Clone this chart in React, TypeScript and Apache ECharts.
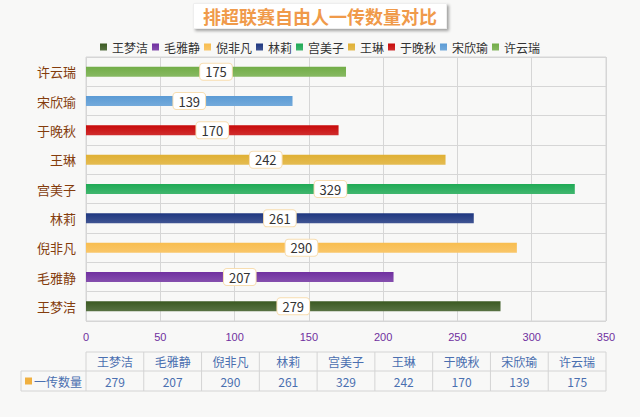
import React, { useEffect, useRef } from "react";
import * as echarts from "echarts";

const categories = ["王梦洁", "毛雅静", "倪非凡", "林莉", "宫美子", "王琳", "于晚秋", "宋欣瑜", "许云瑞"];
const values = [279, 207, 290, 261, 329, 242, 170, 139, 175];
const colors = ["#3b5a22", "#7030a0", "#f8bd4f", "#1f3780", "#1faa55", "#e0b033", "#c80a0a", "#5b9bd5", "#72ad47"];
const xTicks = [0, 50, 100, 150, 200, 250, 300, 350];
const tableRowLabel = "一传数量";
const titleText = "排超联赛自由人一传数量对比";

const FONT = "'Noto Sans CJK SC', 'Microsoft YaHei', sans-serif";

export default function App() {
  const ref = useRef<HTMLDivElement>(null);
  useEffect(() => {
    if (!ref.current) return;
    const chart = echarts.init(ref.current, null, { renderer: "svg" });
    const gridLeft = 86;
    const gridRight = 606;
    const gridTop = 57;
    const gridBottom = 321;
    const colW = (gridRight - gridLeft) / categories.length;
    const tTop = 352;
    const tMid = 371;
    const tBot = 391;
    const tLeft = 21;
    const lineStyle = { stroke: "#d4d4d4", lineWidth: 1 };
    const tableEls: any[] = [];
    tableEls.push({ type: "line", shape: { x1: gridLeft, y1: tTop, x2: gridRight, y2: tTop }, style: lineStyle });
    tableEls.push({ type: "line", shape: { x1: tLeft, y1: tMid, x2: gridRight, y2: tMid }, style: lineStyle });
    tableEls.push({ type: "line", shape: { x1: tLeft, y1: tBot, x2: gridRight, y2: tBot }, style: lineStyle });
    tableEls.push({ type: "line", shape: { x1: tLeft, y1: tMid, x2: tLeft, y2: tBot }, style: lineStyle });
    for (let i = 0; i <= categories.length; i++) {
      const x = gridLeft + i * colW;
      tableEls.push({ type: "line", shape: { x1: x, y1: tTop, x2: x, y2: tBot }, style: lineStyle });
    }
    categories.forEach((c, i) => {
      const cx = gridLeft + (i + 0.5) * colW;
      tableEls.push({
        type: "text",
        x: cx,
        y: (tTop + tMid) / 2,
        style: { text: c, fill: "#4a6fb0", font: `12px ${FONT}`, align: "center", verticalAlign: "middle" },
      });
      tableEls.push({
        type: "text",
        x: cx,
        y: (tMid + tBot) / 2,
        style: { text: String(values[i]), fill: "#4a6fb0", font: `12px ${FONT}`, align: "center", verticalAlign: "middle" },
      });
    });
    tableEls.push({
      type: "rect",
      shape: { x: tLeft + 4, y: (tMid + tBot) / 2 - 3.5, width: 7, height: 7 },
      style: { fill: "#f0b040" },
    });
    tableEls.push({
      type: "text",
      x: tLeft + 13,
      y: (tMid + tBot) / 2,
      style: { text: tableRowLabel, fill: "#4a6fb0", font: `12px ${FONT}`, align: "left", verticalAlign: "middle" },
    });

    const series = categories.map((name, i) => ({
      name,
      type: "bar",
      barWidth: 10,
      barGap: "-100%",
      data: categories.map((_, j) => (j === i ? values[i] : null)),
      itemStyle: {
        color: new echarts.graphic.LinearGradient(0, 0, 0, 1, [
          { offset: 0, color: colors[i] },
          { offset: 1, color: echarts.color.lift(colors[i], 0.15) },
        ]),
      },
      label: {
        show: true,
        position: "inside",
        color: "#333",
        fontSize: 13,
        fontFamily: FONT,
        backgroundColor: "#fff",
        borderColor: "#f7ddb0",
        borderWidth: 1,
        borderRadius: 3,
        padding: [2, 5, 1, 5],
      },
    }));

    chart.setOption({
      animation: false,
      backgroundColor: "#f8f8f7",
      title: {
        text: titleText,
        left: "center",
        top: 3,
        padding: [4, 10, 4, 10],
        backgroundColor: "#ffffff",
        borderColor: "#eeeeee",
        borderWidth: 1,
        shadowColor: "rgba(0,0,0,0.35)",
        shadowBlur: 3,
        shadowOffsetX: 2,
        shadowOffsetY: 2,
        textStyle: { color: "#f09a4a", fontSize: 18, fontWeight: "bold", fontFamily: FONT },
      },
      legend: {
        top: 36,
        left: "center",
        icon: "rect",
        itemWidth: 7,
        itemHeight: 7,
        itemGap: 4,
        textStyle: { color: "#333", fontSize: 12, fontFamily: FONT },
        data: categories,
      },
      grid: {
        left: gridLeft,
        right: 640 - gridRight,
        top: gridTop,
        bottom: 417 - gridBottom,
        show: true,
        borderColor: "#d6d6d6",
        borderWidth: 1,
      },
      xAxis: {
        type: "value",
        min: xTicks[0],
        max: xTicks[xTicks.length - 1],
        interval: 50,
        axisLine: { show: false },
        axisTick: { show: false },
        splitLine: { lineStyle: { color: "#d6d6d6" } },
        axisLabel: { color: "#7030a0", fontSize: 11, margin: 10, fontFamily: "Arial, sans-serif" },
      },
      yAxis: {
        type: "category",
        data: categories,
        axisLine: { show: false },
        axisTick: { show: false },
        splitLine: { show: true, lineStyle: { color: "#d6d6d6" } },
        axisLabel: { color: "#843c0c", fontSize: 13, margin: 10, fontFamily: FONT },
      },
      series,
      graphic: tableEls,
    });
    return () => chart.dispose();
  }, []);
  return <div ref={ref} style={{ position: "fixed", left: 0, top: 0, width: 640, height: 417 }} />;
}
